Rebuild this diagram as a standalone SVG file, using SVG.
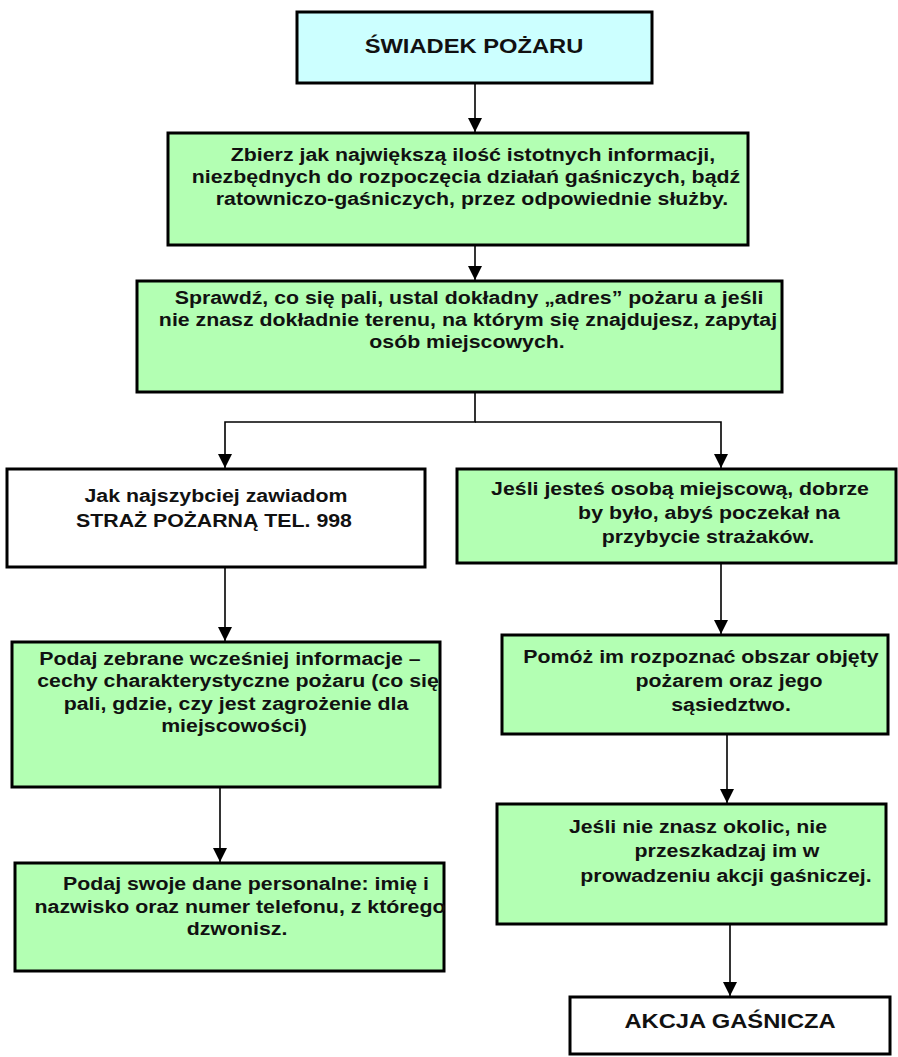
<svg xmlns="http://www.w3.org/2000/svg" width="898" height="1057" viewBox="0 0 898 1057">
<defs>
<style>
.box{stroke:#000;stroke-width:3}
.cyan{fill:#CCFFFF}
.green{fill:#B3FFB3}
.white{fill:#FFFFFF}
.t{font-family:"Liberation Sans",Arial,sans-serif;font-weight:bold;font-size:18.7px;fill:#111;text-anchor:middle}
.h{font-family:"Liberation Sans",Arial,sans-serif;font-weight:bold;font-size:21px;fill:#111;text-anchor:middle}
.c{stroke:#000;stroke-width:1.6;fill:none}
</style>
<marker id="ah" markerUnits="userSpaceOnUse" markerWidth="15" markerHeight="15" refX="14" refY="7" orient="auto">
<path d="M0,0 L14,7 L0,14 Z" fill="#000"/>
</marker>
</defs>
<rect width="898" height="1057" fill="#FFFFFF"/>

<g id="connectors">
<line class="c" x1="475" y1="83" x2="475" y2="132" marker-end="url(#ah)"/>
<line class="c" x1="475" y1="245" x2="475" y2="280" marker-end="url(#ah)"/>
<polyline class="c" points="475,392 475,422 225,422 225,468" marker-end="url(#ah)"/>
<polyline class="c" points="475,422 721,422 721,468" marker-end="url(#ah)"/>
<line class="c" x1="225" y1="567" x2="225" y2="641" marker-end="url(#ah)"/>
<line class="c" x1="220" y1="787" x2="220" y2="862" marker-end="url(#ah)"/>
<line class="c" x1="721" y1="563" x2="721" y2="634" marker-end="url(#ah)"/>
<line class="c" x1="727" y1="734" x2="727" y2="803" marker-end="url(#ah)"/>
<line class="c" x1="730" y1="924" x2="730" y2="996" marker-end="url(#ah)"/>
</g>

<g id="n1">
<rect class="box cyan" x="297" y="12" width="355" height="71"/>
<text class="h" transform="translate(474 53) scale(1.13 1)">ŚWIADEK POŻARU</text>
</g>

<g id="n2">
<rect class="box green" x="168" y="133" width="580" height="112"/>
<text class="t" transform="translate(473 161) scale(1.14 1)">Zbierz jak największą ilość istotnych informacji,</text>
<text class="t" transform="translate(466 183) scale(1.14 1)">niezbędnych do rozpoczęcia działań gaśniczych, bądź</text>
<text class="t" transform="translate(472 205) scale(1.14 1)">ratowniczo-gaśniczych, przez odpowiednie służby.</text>
</g>

<g id="n3">
<rect class="box green" x="137" y="281" width="645" height="111"/>
<text class="t" transform="translate(469 304) scale(1.14 1)">Sprawdź, co się pali, ustal dokładny „adres” pożaru a jeśli</text>
<text class="t" transform="translate(468 326) scale(1.14 1)">nie znasz dokładnie terenu, na którym się znajdujesz, zapytaj</text>
<text class="t" transform="translate(467 348) scale(1.14 1)">osób miejscowych.</text>
</g>

<g id="n4">
<rect class="box white" x="7" y="469" width="418" height="98"/>
<text class="t" transform="translate(216 502) scale(1.14 1)">Jak najszybciej zawiadom</text>
<text class="t" transform="translate(214 527) scale(1.14 1)">STRAŻ POŻARNĄ TEL. 998</text>
</g>

<g id="n5">
<rect class="box green" x="457" y="469" width="439" height="94"/>
<text class="t" transform="translate(680 495) scale(1.14 1)">Jeśli jesteś osobą miejscową, dobrze</text>
<text class="t" transform="translate(709 519) scale(1.14 1)">by było, abyś poczekał na</text>
<text class="t" transform="translate(708 543) scale(1.14 1)">przybycie strażaków.</text>
</g>

<g id="n6">
<rect class="box green" x="12" y="642" width="428" height="145"/>
<text class="t" transform="translate(230 665) scale(1.14 1)">Podaj zebrane wcześniej informacje –</text>
<text class="t" transform="translate(238 687) scale(1.14 1)">cechy charakterystyczne pożaru (co się</text>
<text class="t" transform="translate(236 710) scale(1.14 1)">pali, gdzie, czy jest zagrożenie dla</text>
<text class="t" transform="translate(234 732) scale(1.14 1)">miejscowości)</text>
</g>

<g id="n7">
<rect class="box green" x="502" y="635" width="386" height="99"/>
<text class="t" transform="translate(701 663) scale(1.14 1)">Pomóż im rozpoznać obszar objęty</text>
<text class="t" transform="translate(729 687) scale(1.14 1)">pożarem oraz jego</text>
<text class="t" transform="translate(731 711) scale(1.14 1)">sąsiedztwo.</text>
</g>

<g id="n8">
<rect class="box green" x="15" y="863" width="429" height="108"/>
<text class="t" transform="translate(246 890) scale(1.14 1)">Podaj swoje dane personalne: imię i</text>
<text class="t" transform="translate(240 913) scale(1.14 1)">nazwisko oraz numer telefonu, z którego</text>
<text class="t" transform="translate(237 935) scale(1.14 1)">dzwonisz.</text>
</g>

<g id="n9">
<rect class="box green" x="497" y="804" width="389" height="120"/>
<text class="t" transform="translate(698 833) scale(1.14 1)">Jeśli nie znasz okolic, nie</text>
<text class="t" transform="translate(727 857) scale(1.14 1)">przeszkadzaj im w</text>
<text class="t" transform="translate(726 882) scale(1.14 1)">prowadzeniu akcji gaśniczej.</text>
</g>

<g id="n10">
<rect class="box white" x="570" y="997" width="320" height="57"/>
<text class="h" transform="translate(730 1028) scale(1.13 1)">AKCJA GAŚNICZA</text>
</g>
</svg>
